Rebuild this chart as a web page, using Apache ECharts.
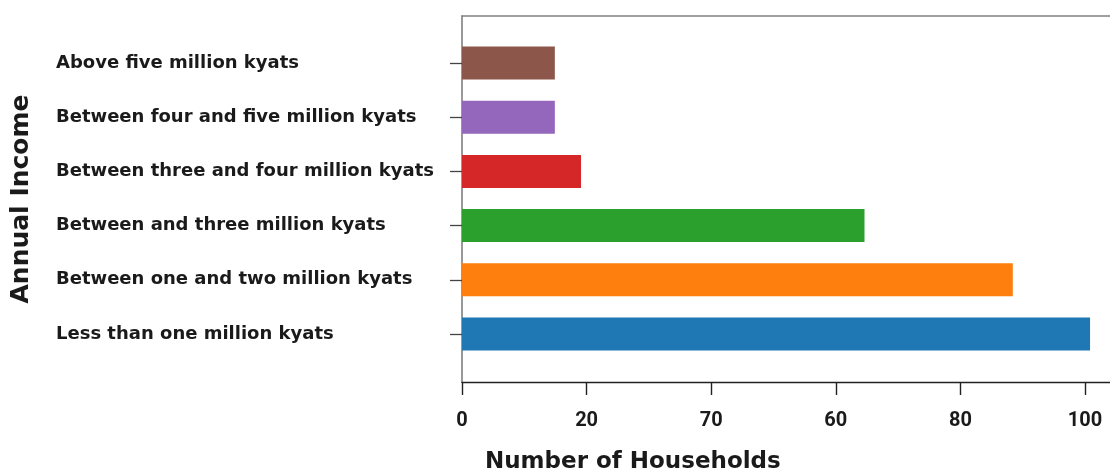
<!DOCTYPE html>
<html>
<head>
<meta charset="utf-8">
<title>Annual Income of Households</title>
<script src="https://cdn.jsdelivr.net/npm/echarts@6/dist/echarts.min.js"></script>
<style>
  html, body { margin: 0; padding: 0; background: #ffffff; }
  #chart { width: 1110px; height: 470px; }
</style>
</head>
<body>
<div id="chart"></div>
<script>
// Income brackets, listed top to bottom
const categories = [
  'Above five million kyats',
  'Between four and five million kyats',
  'Between three and four million kyats',
  'Between and three million kyats',
  'Between one and two million kyats',
  'Less than one million kyats'
];

// Number of households in each bracket
const households = [14.9, 14.9, 19.1, 64.6, 88.4, 100.8];

// Tick positions on the household axis and the text printed under each
const xTickValues = [0, 20, 40, 60, 80, 100];
const xTickLabels = ['0', '20', '70', '60', '80', '100'];

const xAxisMax = 104;

// One colour per bar, in the same order as the categories
const barPalette = ['#8c564b', '#9467bd', '#d62728', '#2ca02c', '#ff7f0e', '#1f77b4'];

const labelFont = 'DejaVu Sans';
const chart = echarts.init(document.getElementById('chart'), null, { renderer: 'canvas' });

chart.setOption({
  animation: false,
  backgroundColor: '#ffffff',
  color: barPalette,
  title: {
    text: 'Number of Households',
    left: 480,
    top: 446,
    textStyle: { fontFamily: labelFont, fontWeight: 'bold', fontSize: 23, color: '#1a1a1a' }
  },
  grid: [
    // outer frame: axis lines, value ticks and axis names
    { left: 462, right: 0, top: 16, bottom: 88, outerBoundsMode: 'none', containLabel: false },
    // bar area, inset from the frame
    { left: 462, right: 0, top: 36, bottom: 109, outerBoundsMode: 'none', containLabel: false }
  ],
  xAxis: [
    {
      gridIndex: 0,
      type: 'value',
      position: 'bottom',
      min: 0,
      max: xAxisMax,
      axisLine: { show: true, onZero: false, lineStyle: { color: '#222222', width: 1.4 } },
      axisTick: {
        show: true,
        length: 13,
        customValues: xTickValues,
        lineStyle: { color: '#222222', width: 1.4 }
      },
      axisLabel: {
        show: true,
        customValues: xTickValues,
        margin: 29,
        fontFamily: 'Roboto',
        fontWeight: 'bold',
        fontSize: 20,
        color: '#1a1a1a',
        formatter: function (v) {
          const i = xTickValues.indexOf(v);
          return i >= 0 ? xTickLabels[i] : '';
        }
      },
      splitLine: { show: false }
    },
    {
      gridIndex: 0,
      type: 'value',
      position: 'top',
      min: 0,
      max: xAxisMax,
      axisLine: { show: true, onZero: false, lineStyle: { color: '#808080', width: 1.5 } },
      axisTick: { show: false },
      axisLabel: { show: false },
      splitLine: { show: false }
    },
    {
      gridIndex: 1,
      type: 'value',
      min: 0,
      max: xAxisMax,
      show: false
    }
  ],
  yAxis: [
    {
      gridIndex: 0,
      type: 'value',
      min: 0,
      max: 1,
      name: 'Annual Income',
      nameLocation: 'middle',
      nameRotate: 90,
      nameGap: 428,
      nameTextStyle: {
        fontFamily: labelFont,
        fontWeight: 'bold',
        fontSize: 25,
        color: '#1a1a1a',
        padding: [8, 0, 0, 0]
      },
      axisLine: { show: true, onZero: false, lineStyle: { color: '#777777', width: 1.5 } },
      axisTick: { show: false },
      axisLabel: { show: false },
      splitLine: { show: false }
    },
    {
      gridIndex: 1,
      type: 'category',
      inverse: true,
      data: categories,
      axisLine: { show: false },
      axisTick: { show: true, length: 12, alignWithLabel: true, lineStyle: { color: '#444444', width: 1.3 } },
      axisLabel: {
        align: 'left',
        margin: 406,
        fontFamily: labelFont,
        fontWeight: 'bold',
        fontSize: 18,
        color: '#1a1a1a',
        padding: [0, 0, 14, 0]
      },
      splitLine: { show: false }
    }
  ],
  series: [
    {
      type: 'bar',
      xAxisIndex: 2,
      yAxisIndex: 1,
      colorBy: 'data',
      barWidth: '61%',
      data: households,
      label: { show: false }
    }
  ]
});
</script>
</body>
</html>
